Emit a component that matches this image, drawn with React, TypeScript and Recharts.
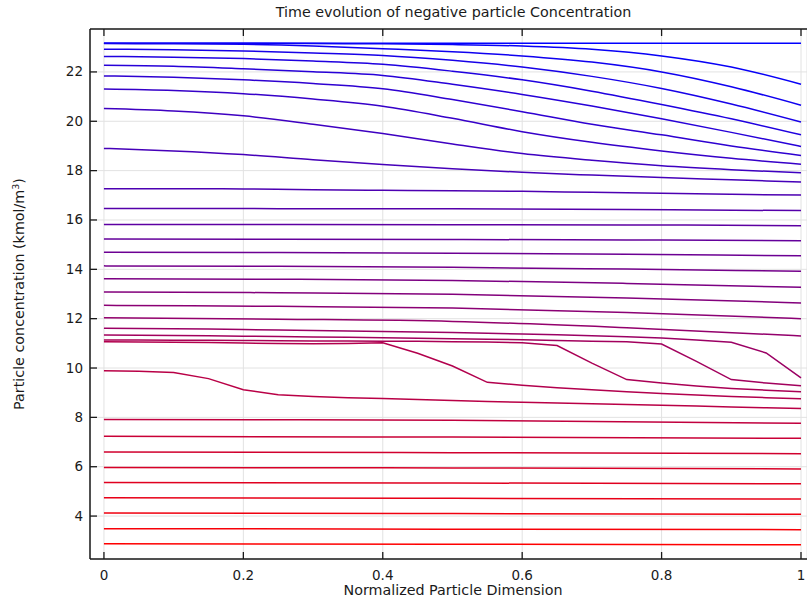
import { LineChart, Line, XAxis, YAxis, CartesianGrid, Label } from 'recharts'

// axis setup
const xTicks = [0, 0.2, 0.4, 0.6, 0.8, 1]
const yTicks = [4, 6, 8, 10, 12, 14, 16, 18, 20, 22]
const xDomain = [-0.02, 1.0086]
const yDomain = [2.26, 23.74]

// sample positions along the particle
const xFine = [0, 0.1, 0.2, 0.3, 0.4, 0.5, 0.6, 0.7, 0.8, 0.9, 1]
const xMid = [0, 0.25, 0.5, 0.75, 1]
const xCoarse = [0, 0.5, 1]
const xKink = [
  0, 0.05, 0.1, 0.15, 0.2, 0.25, 0.3, 0.35, 0.4, 0.45, 0.5, 0.55, 0.6, 0.65, 0.7, 0.75, 0.8, 0.85,
  0.9, 0.95, 1,
]

// concentration profiles, earliest time first
const p01 = [23.16, 23.16, 23.16, 23.16, 23.16, 23.16, 23.16, 23.16, 23.16, 23.16, 23.16]
const p02 = [23.16, 23.16, 23.16, 23.15, 23.14, 23.11, 23.05, 22.92, 22.65, 22.2, 21.5]
const p03 = [23.15, 23.14, 23.12, 23.05, 22.94, 22.82, 22.65, 22.4, 22.0, 21.4, 20.65]
const p04 = [22.92, 22.9, 22.85, 22.77, 22.67, 22.47, 22.2, 21.82, 21.33, 20.7, 19.97]
const p05 = [22.63, 22.6, 22.54, 22.44, 22.31, 22.03, 21.68, 21.22, 20.68, 20.1, 19.45]
const p06 = [22.27, 22.23, 22.13, 22.01, 21.86, 21.5, 21.09, 20.62, 20.1, 19.55, 18.98]
const p07 = [21.84, 21.78, 21.68, 21.53, 21.32, 20.88, 20.39, 19.88, 19.45, 19.0, 18.61]
const p08 = [21.31, 21.25, 21.12, 20.9, 20.61, 20.12, 19.58, 19.15, 18.8, 18.5, 18.26]
const p09 = [20.52, 20.42, 20.22, 19.88, 19.5, 19.08, 18.69, 18.42, 18.2, 18.04, 17.91]
const p10 = [18.9, 18.8, 18.65, 18.44, 18.25, 18.08, 17.93, 17.82, 17.72, 17.63, 17.54]
const p11 = [17.27, 17.27, 17.26, 17.23, 17.2, 17.18, 17.16, 17.12, 17.08, 17.04, 17.01]

const p12 = [16.47, 16.46, 16.45, 16.42, 16.38]
const p13 = [15.82, 15.82, 15.81, 15.8, 15.77]
const p14 = [15.23, 15.22, 15.21, 15.19, 15.16]
const p15 = [14.69, 14.68, 14.65, 14.61, 14.55]
const p16 = [14.14, 14.12, 14.08, 14.01, 13.92]
const p17 = [13.62, 13.6, 13.55, 13.43, 13.27]
const p18 = [13.08, 13.05, 12.99, 12.84, 12.64]
const p19 = [12.54, 12.5, 12.43, 12.25, 12.0]
const p20 = [12.04, 11.98, 11.89, 11.63, 11.3]

const p21 = [
  11.61, 11.6, 11.59, 11.58, 11.56, 11.54, 11.52, 11.5, 11.48, 11.46, 11.44, 11.41, 11.38, 11.35,
  11.31, 11.27, 11.22, 11.14, 11.04, 10.61, 9.6,
]
const p22 = [
  11.34, 11.33, 11.32, 11.31, 11.29, 11.28, 11.26, 11.25, 11.23, 11.21, 11.19, 11.17, 11.15, 11.12,
  11.09, 11.06, 10.97, 10.27, 9.53, 9.39, 9.28,
]
const p23 = [
  11.14, 11.14, 11.13, 11.13, 11.12, 11.11, 11.1, 11.1, 11.09, 11.08, 11.06, 11.05, 11.02, 10.91,
  10.2, 9.53, 9.39, 9.27, 9.17, 9.1, 9.04,
]
const p24 = [
  11.06, 11.05, 11.04, 11.03, 11.01, 10.99, 10.98, 10.99, 11.02, 10.6, 10.08, 9.42, 9.3, 9.2, 9.12,
  9.04, 8.97, 8.91, 8.85, 8.8, 8.75,
]
const p25 = [
  9.89, 9.87, 9.82, 9.57, 9.12, 8.92, 8.85, 8.8, 8.76, 8.72, 8.68, 8.64, 8.61, 8.58, 8.55, 8.52, 8.49,
  8.46, 8.42, 8.39, 8.36,
]

const p26 = [7.91, 7.88, 7.76]
const p27 = [7.23, 7.2, 7.15]
const p28 = [6.6, 6.57, 6.53]
const p29 = [5.97, 5.95, 5.91]
const p30 = [5.36, 5.34, 5.31]
const p31 = [4.74, 4.72, 4.69]
const p32 = [4.12, 4.1, 4.07]
const p33 = [3.49, 3.47, 3.45]
const p34 = [2.88, 2.86, 2.84]

const profiles: [number[], number[]][] = [
  [xFine, p01], [xFine, p02], [xFine, p03], [xFine, p04], [xFine, p05], [xFine, p06],
  [xFine, p07], [xFine, p08], [xFine, p09], [xFine, p10], [xFine, p11],
  [xMid, p12], [xMid, p13], [xMid, p14], [xMid, p15], [xMid, p16], [xMid, p17],
  [xMid, p18], [xMid, p19], [xMid, p20],
  [xKink, p21], [xKink, p22], [xKink, p23], [xKink, p24], [xKink, p25],
  [xCoarse, p26], [xCoarse, p27], [xCoarse, p28], [xCoarse, p29], [xCoarse, p30],
  [xCoarse, p31], [xCoarse, p32], [xCoarse, p33], [xCoarse, p34],
]

const series = profiles.map(([xs, ys]) => xs.map((x, i) => ({ x, y: ys[i] })))

// blue -> red over time
const lineColor = (i: number) => {
  const t = i / (profiles.length - 1)
  return `rgb(${Math.round(255 * t)},0,${Math.round(255 * (1 - t))})`
}

const FONT = '"DejaVu Sans", sans-serif'
const INK = '#1a1a1a'

// plot box (chart margins / axis sizes below)
const PLOT_LEFT = 90
const PLOT_TOP = 29
const PLOT_W = 807 - PLOT_LEFT
const toPx = (t: number) => PLOT_LEFT + ((t - xDomain[0]) / (xDomain[1] - xDomain[0])) * PLOT_W

function LeftTick({ x, y, payload }: any) {
  return (
    <g>
      <line x1={x} x2={x + 7} y1={y} y2={y} stroke={INK} strokeWidth={1.3} />
      <text x={x - 7} y={y + 4.5} textAnchor="end" fontSize={13.5} fill={INK} fontFamily={FONT}>
        {payload.value}
      </text>
    </g>
  )
}

function BottomTick({ x, y, payload }: any) {
  return (
    <g>
      <line x1={x} x2={x} y1={y} y2={y - 7} stroke={INK} strokeWidth={1.3} />
      <text x={x} y={y + 21} textAnchor="middle" fontSize={13.5} fill={INK} fontFamily={FONT}>
        {payload.value}
      </text>
    </g>
  )
}

// top frame of the plot with inward ticks
function TopFrame() {
  return (
    <svg
      width={807}
      height={40}
      style={{ position: 'absolute', left: 0, top: 0, pointerEvents: 'none' }}
    >
      <line x1={PLOT_LEFT} x2={807} y1={PLOT_TOP} y2={PLOT_TOP} stroke={INK} strokeWidth={1.6} />
      {xTicks.map((t) => (
        <line
          key={t}
          x1={toPx(t)}
          x2={toPx(t)}
          y1={PLOT_TOP}
          y2={PLOT_TOP + 7}
          stroke={INK}
          strokeWidth={1.3}
        />
      ))}
    </svg>
  )
}

export default function App() {
  return (
    <div style={{ position: 'absolute', left: 0, top: 0, width: 807, height: 601, background: '#fff' }}>
      <div
        style={{
          position: 'absolute',
          left: 453.5,
          top: 4,
          transform: 'translateX(-50%)',
          whiteSpace: 'nowrap',
          fontFamily: FONT,
          fontSize: 14.3,
          color: INK,
        }}
      >
        Time evolution of negative particle Concentration
      </div>
      <LineChart width={807} height={601} margin={{ top: PLOT_TOP, right: 0, bottom: 0, left: 0 }}>
        <CartesianGrid stroke="#e2e2e2" />
        <XAxis
          type="number"
          dataKey="x"
          domain={xDomain}
          ticks={xTicks}
          allowDataOverflow
          height={42}
          tickSize={0}
          tickMargin={0}
          tickLine={false}
          tick={<BottomTick />}
          axisLine={{ stroke: INK, strokeWidth: 1.5 }}
        >
          <Label
            content={() => (
              <text x={453} y={595} textAnchor="middle" fontSize={14.3} fill={INK} fontFamily={FONT}>
                Normalized Particle Dimension
              </text>
            )}
          />
        </XAxis>
        <YAxis
          type="number"
          domain={yDomain}
          ticks={yTicks}
          allowDataOverflow
          width={PLOT_LEFT}
          tickSize={0}
          tickMargin={0}
          tickLine={false}
          tick={<LeftTick />}
          axisLine={{ stroke: INK, strokeWidth: 1.5 }}
        >
          <Label
            content={() => (
              <text
                x={24}
                y={294}
                transform="rotate(-90, 24, 294)"
                textAnchor="middle"
                fontSize={14.3}
                fill={INK}
                fontFamily={FONT}
              >
                Particle concentration (kmol/m
                <tspan dy={-5} fontSize={9.5}>3</tspan>
                <tspan dy={5}>)</tspan>
              </text>
            )}
          />
        </YAxis>
        {series.map((d, i) => (
          <Line
            key={i}
            data={d}
            dataKey="y"
            type={d.length === xKink.length ? 'linear' : 'monotone'}
            stroke={lineColor(i)}
            strokeWidth={1.5}
            dot={false}
            activeDot={false}
            isAnimationActive={false}
          />
        ))}
      </LineChart>
      <TopFrame />
    </div>
  )
}
